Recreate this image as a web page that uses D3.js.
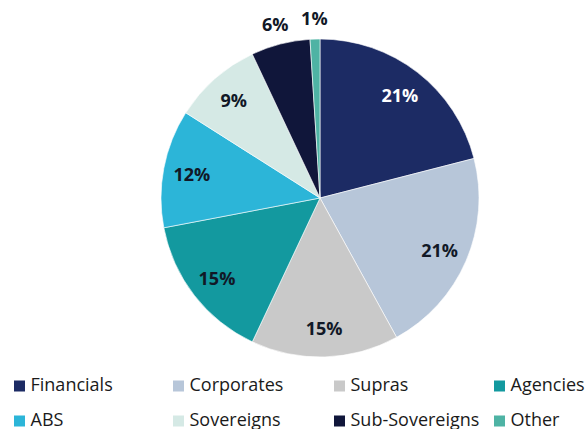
<!DOCTYPE html>
<html>
<head>
<meta charset="utf-8">
<script src="https://cdn.jsdelivr.net/npm/d3@7"></script>
<style>
  body { margin: 0; background: #fff; }
  svg { display: block; font-family: "Open Sans", sans-serif; }
</style>
</head>
<body>
<svg id="chart" width="588" height="429"></svg>
<script>
var width = 588;
var height = 429;

// data
var categories = ["Financials", "Corporates", "Supras", "Agencies", "ABS", "Sovereigns", "Sub-Sovereigns", "Other"];
var shares = [21, 21, 15, 15, 12, 9, 6, 1];
var colors = ["#1c2b64", "#b7c6d9", "#c9c9c9", "#13999f", "#2cb5d8", "#d5e9e5", "#10163a", "#4eb3a4"];
var labelColors = ["#ffffff", "#111827", "#111827", "#111827", "#111827", "#111827", "#111827", "#111827"];

var cx = 320, cy = 198, radius = 159;

var svg = d3.select("#chart");

var data = categories.map(function(c, i) {
    return { name: c, value: shares[i], color: colors[i], labelColor: labelColors[i] };
});

var pie = d3.pie()
    .sort(null)
    .value(function(d) { return d.value; });

var arc = d3.arc().innerRadius(0).outerRadius(radius);
var labelArc = d3.arc().innerRadius(radius * 0.82).outerRadius(radius * 0.82);
var outerArc = d3.arc().innerRadius(radius + 21).outerRadius(radius + 21);

var g = svg.append("g").attr("transform", "translate(" + cx + "," + cy + ")");

var arcs = pie(data);

g.selectAll("path")
    .data(arcs)
    .enter()
    .append("path")
    .attr("d", arc)
    .attr("fill", function(d) { return d.data.color; })
    .attr("stroke", "#ffffff")
    .attr("stroke-width", 0.6);

// small slices get their label outside
g.selectAll("text.pct")
    .data(arcs)
    .enter()
    .append("text")
    .attr("class", "pct")
    .attr("transform", function(d) {
        var p = d.data.value < 8 ? outerArc.centroid(d) : labelArc.centroid(d);
        return "translate(" + p[0] + "," + p[1] + ")";
    })
    .attr("text-anchor", "middle")
    .attr("dominant-baseline", "central")
    .attr("font-size", 18)
    .attr("font-weight", 700)
    .attr("fill", function(d) { return d.data.value < 8 ? "#111827" : d.data.labelColor; })
    .text(function(d) { return d.data.value + "%"; });

// legend, 4 columns x 2 rows (y = text baseline)
var colX = d3.scaleOrdinal().domain([0, 1, 2, 3]).range([14, 173, 334, 494]);
var rowY = d3.scaleOrdinal().domain([0, 1]).range([391, 426]);

var legend = svg.append("g")
    .selectAll("g")
    .data(data)
    .enter()
    .append("g")
    .attr("transform", function(d, i) {
        return "translate(" + colX(i % 4) + "," + rowY(Math.floor(i / 4)) + ")";
    });

legend.append("rect")
    .attr("x", 0)
    .attr("y", -10.5)
    .attr("width", 11)
    .attr("height", 11)
    .attr("fill", function(d) { return d.color; });

legend.append("text")
    .attr("x", 16.5)
    .attr("y", 0)
    .attr("font-size", 18)
    .attr("fill", "#1a1a1a")
    .text(function(d) { return d.name; });
</script>
</body>
</html>
